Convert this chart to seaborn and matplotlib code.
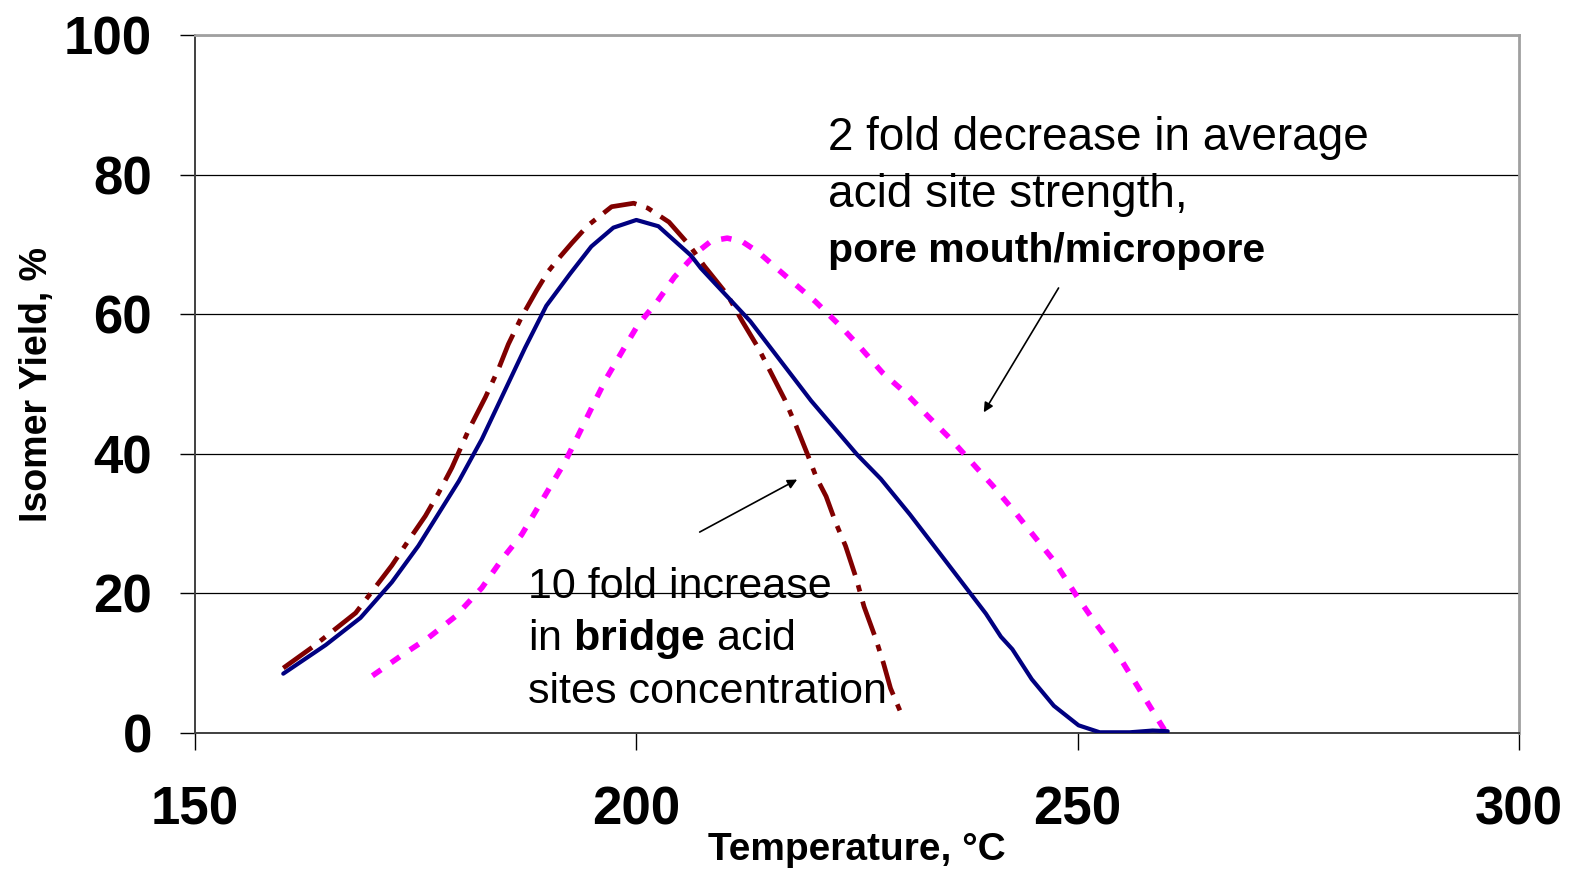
import matplotlib
matplotlib.use("Agg")
import matplotlib.pyplot as plt
import seaborn as sns
import pandas as pd

# ---- data ----
base_T = [160, 164.8, 168.75, 172.3, 175.3, 179.9, 182.5, 187.4, 189.8, 192.5, 194.9, 197.4,
          200, 202.5, 206.2, 207.3, 212.9, 219.8, 225.0, 227.7, 231.0, 234.4, 239.6, 241.3,
          242.6, 244.8, 247.3, 250.1, 252.5, 255.9, 258.5, 260.2]
base_Y = [8.5, 12.6, 16.5, 21.6, 26.8, 36.1, 42.1, 55.2, 61.2, 65.8, 69.7, 72.4,
          73.5, 72.6, 68.4, 66.6, 59.0, 47.6, 39.9, 36.4, 31.3, 25.7, 17.1, 13.8,
          12.0, 7.7, 3.9, 1.1, 0.1, 0.1, 0.35, 0.25]

bridge_T = [160, 163.3, 165.5, 168.2, 172.3, 174.2, 176.1, 177.6, 179.1, 181.0, 182.9, 184.4,
            185.5, 187.0, 188.7, 190.0, 191.2, 192.7, 194.5, 197.2, 199.7, 201.3, 203.7, 206.0,
            207.7, 210.3, 212.0, 213.8, 216.8, 218.1, 219.4, 220.4, 221.5, 222.6, 223.7, 224.9,
            225.8, 227.1, 228.0, 228.8, 230.2]
bridge_Y = [9.3, 12.3, 14.5, 17.2, 24.0, 27.6, 31.1, 34.4, 38.0, 43.4, 48.1, 52.2,
            55.7, 59.6, 63.4, 66.1, 68.0, 70.2, 72.7, 75.4, 75.9, 75.2, 73.2, 69.9,
            66.9, 62.8, 59.0, 55.2, 47.8, 44.0, 39.9, 36.6, 33.9, 30.1, 26.8, 22.2,
            18.1, 13.6, 10.0, 6.4, 2.2]

weak_T = [170.1, 173.5, 176.5, 179.5, 182.5, 184.9, 187.0, 188.7, 190.2, 191.9, 193.4, 195.1,
          196.6, 198.5, 200.2, 202.3, 204.3, 206.9, 208.5, 210.3, 212.0, 213.8, 216.8, 220.3,
          223.2, 225.4, 227.9, 230.6, 233.1, 235.7, 237.9, 240.4, 242.8, 245.0, 247.3, 249.9,
          252.1, 254.2, 255.9, 257.9, 259.9]
weak_Y = [8.2, 11.2, 13.7, 16.7, 20.8, 25.1, 28.4, 32.0, 35.2, 38.8, 42.6, 47.0,
          50.8, 54.9, 58.5, 61.7, 65.3, 68.9, 70.5, 70.9, 70.4, 68.9, 65.6, 61.8,
          58.2, 55.2, 51.6, 48.6, 45.3, 42.0, 38.9, 35.4, 31.8, 28.3, 24.7, 19.6,
          15.6, 12.0, 8.5, 4.4, 0.3]

x_ticks = [150, 200, 250, 300]
y_ticks = [0, 20, 40, 60, 80, 100]
x_label = "Temperature, °C"
y_label = "Isomer Yield, %"

# ---- style ----
sns.set_style("white")
plt.rcParams["font.family"] = ["Liberation Sans", "DejaVu Sans"]
plt.rcParams["mathtext.fontset"] = "custom"
plt.rcParams["mathtext.rm"] = "Liberation Sans"
plt.rcParams["mathtext.bf"] = "Liberation Sans:bold"
for k in ["text.color", "xtick.color", "ytick.color", "axes.labelcolor"]:
    plt.rcParams[k] = "black"

fig = plt.figure(figsize=(15.74, 8.74), dpi=100)
ax = fig.add_axes([195 / 1574, 1 - 733 / 874, (1519 - 195) / 1574, (733 - 35) / 874])

df_base = pd.DataFrame({"T": base_T, "Y": base_Y})
df_bridge = pd.DataFrame({"T": bridge_T, "Y": bridge_Y})
df_weak = pd.DataFrame({"T": weak_T, "Y": weak_Y})

sns.lineplot(data=df_weak, x="T", y="Y", ax=ax, color="#FF00FF", lw=4.0,
             linestyle=(0, (1.9, 2.2)), sort=False, estimator=None, zorder=3)
sns.lineplot(data=df_bridge, x="T", y="Y", ax=ax, color="#800000", lw=3.4,
             linestyle=(0, (7.5, 2.2, 1.4, 2.2)), sort=False, estimator=None, zorder=4)
sns.lineplot(data=df_base, x="T", y="Y", ax=ax, color="#000080", lw=3.0,
             sort=False, estimator=None, zorder=5)

ax.set_xlim(150, 300)
ax.set_ylim(0, 100)
ax.set_xticks(x_ticks)
ax.set_yticks(y_ticks)
ax.set_xticklabels([str(v) for v in x_ticks], fontsize=38, fontweight="bold")
ax.set_yticklabels([str(v) for v in y_ticks], fontsize=38, fontweight="bold")
ax.tick_params(axis="y", direction="out", length=11, width=1, color="black", pad=20, left=True)
ax.tick_params(axis="x", direction="out", length=12, width=1, color="black", pad=26, bottom=True)
ax.set_xlabel("")
ax.set_ylabel("")

ax.yaxis.grid(True, color="black", lw=0.9)
ax.xaxis.grid(False)
ax.set_axisbelow(True)

for s in ["left", "bottom"]:
    ax.spines[s].set_color("#404040")
    ax.spines[s].set_linewidth(1.4)
for s in ["top", "right"]:
    ax.spines[s].set_color("#a0a0a0")
    ax.spines[s].set_linewidth(2.0)

fig.text(857 / 1574, 1 - 850 / 874, x_label, ha="center", va="center",
         fontsize=28, fontweight="bold")
fig.text(37 / 1574, 1 - 385 / 874, y_label, ha="center", va="center",
         fontsize=27, fontweight="bold", rotation=90)

# annotations
ax.text(221.7, 83.5, "2 fold decrease in average", fontsize=33, ha="left", va="baseline")
ax.text(221.7, 75.4, "acid site strength,", fontsize=33, ha="left", va="baseline")
ax.text(221.7, 67.5, "pore mouth/micropore", fontsize=29.5, fontweight="bold", ha="left", va="baseline")

ax.text(187.7, 19.3, "10 fold increase", fontsize=31, ha="left", va="baseline")
ax.text(187.7, 11.9, r"in $\mathbf{bridge}$ acid", fontsize=31, ha="left", va="baseline")
ax.text(187.7, 4.3, "sites concentration", fontsize=31, ha="left", va="baseline")

ax.annotate("", xy=(239.2, 45.6), xytext=(248.0, 64.1),
            arrowprops=dict(arrowstyle="-|>", color="black", lw=1.2, mutation_scale=14))
ax.annotate("", xy=(218.5, 36.5), xytext=(206.9, 28.6),
            arrowprops=dict(arrowstyle="-|>", color="black", lw=1.2, mutation_scale=14))

fig.savefig("out.png", dpi=100)
